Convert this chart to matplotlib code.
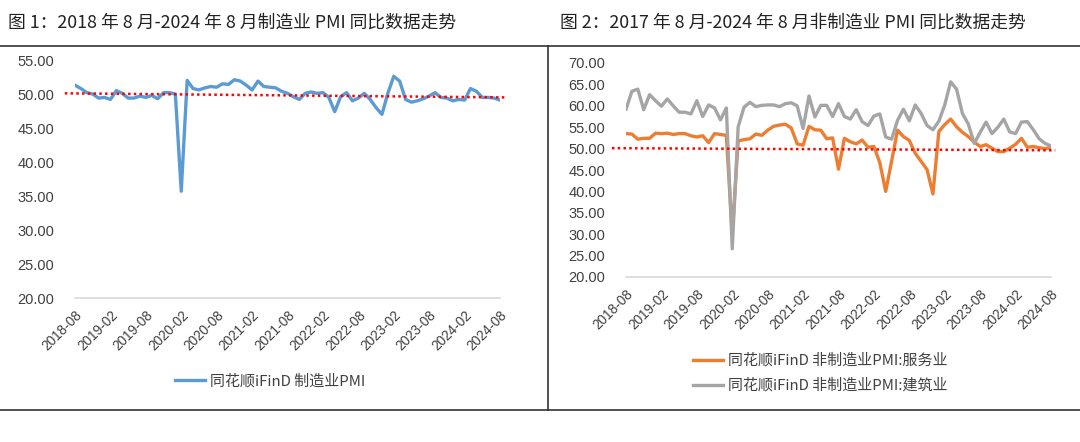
import matplotlib
matplotlib.use('Agg')
import matplotlib.pyplot as plt
from matplotlib.lines import Line2D
from matplotlib.transforms import blended_transform_factory
import pandas as pd

plt.rcParams['font.family'] = ['Liberation Sans', 'Noto Sans CJK SC', 'DejaVu Sans']

months = pd.date_range('2018-08-01', periods=73, freq='MS').strftime('%Y-%m').tolist()

# 制造业PMI 2018-08 .. 2024-08
mfg_pmi = [51.3, 50.8, 50.2, 50.0, 49.4,
           49.5, 49.2, 50.5, 50.1, 49.4, 49.4, 49.7, 49.5, 49.8, 49.3, 50.2, 50.2,
           50.0, 35.7, 52.0, 50.8, 50.6, 50.9, 51.1, 51.0, 51.5, 51.4, 52.1, 51.9,
           51.3, 50.6, 51.9, 51.1, 51.0, 50.9, 50.4, 50.1, 49.6, 49.2, 50.1, 50.3,
           50.1, 50.2, 49.5, 47.4, 49.6, 50.2, 49.0, 49.4, 50.1, 49.2, 48.0, 47.0,
           50.1, 52.6, 51.9, 49.2, 48.8, 49.0, 49.3, 49.7, 50.2, 49.5, 49.4, 49.0,
           49.2, 49.1, 50.8, 50.4, 49.5, 49.5, 49.4, 49.1]

# 非制造业PMI:服务业
services = [53.5, 53.4, 52.2, 52.4, 52.4,
            53.6, 53.5, 53.6, 53.3, 53.5, 53.5, 53.0, 52.7, 53.0, 51.4, 53.5, 53.3,
            53.1, 30.1, 51.8, 52.1, 52.3, 53.4, 53.1, 54.3, 55.2, 55.5, 55.7, 54.8,
            51.1, 50.8, 55.2, 54.4, 54.3, 52.3, 52.5, 45.2, 52.4, 51.6, 51.1, 52.0,
            50.3, 50.5, 46.7, 40.0, 47.1, 54.3, 52.8, 51.9, 48.9, 47.0, 45.1, 39.4,
            54.0, 55.6, 56.9, 55.1, 53.8, 52.8, 51.5, 50.5, 50.9, 50.1, 49.3, 49.3,
            50.1, 51.0, 52.4, 50.3, 50.5, 50.2, 50.0, 50.2]

# 非制造业PMI:建筑业
construction = [59.2, 63.4, 63.9, 59.1, 62.6,
                61.2, 59.9, 61.6, 60.0, 58.5, 58.5, 58.1, 61.2, 57.5, 60.2, 59.5, 56.7,
                59.5, 26.6, 55.1, 59.7, 60.8, 59.8, 60.1, 60.2, 60.2, 59.8, 60.5, 60.7,
                60.0, 54.7, 62.3, 57.4, 60.1, 60.1, 57.5, 60.5, 57.5, 56.9, 59.1, 56.3,
                55.4, 57.6, 58.1, 52.7, 52.2, 56.6, 59.2, 56.5, 60.2, 58.2, 55.4, 54.4,
                56.4, 60.2, 65.6, 63.9, 58.2, 55.7, 51.2, 53.8, 56.2, 53.5, 55.0, 56.9,
                53.9, 53.5, 56.2, 56.3, 54.4, 52.3, 51.2, 50.6]

ref_left = [50.1, 49.5]
ref_right = [50.1, 49.6]

title1 = '图 1：2018 年 8 月-2024 年 8 月制造业 PMI 同比数据走势'
title2 = '图 2：2017 年 8 月-2024 年 8 月非制造业 PMI 同比数据走势'

W, H = 1080, 442
fig = plt.figure(figsize=(W / 100, H / 100), dpi=100)


def frac(x0, y_top, x1, y_bot):
    return [x0 / W, 1 - y_bot / H, (x1 - x0) / W, (y_bot - y_top) / H]


def style_axes(ax, ymax):
    for s in ['top', 'right', 'left']:
        ax.spines[s].set_visible(False)
    ax.spines['bottom'].set_color('#d9d9d9')
    ax.spines['bottom'].set_linewidth(1.2)
    ax.set_xlim(0, len(months) - 1)
    ax.set_ylim(20, ymax)
    ax.set_yticks(range(20, ymax + 1, 5))
    ax.set_yticklabels([f'{v:.2f}' for v in range(20, ymax + 1, 5)])
    ticks = list(range(0, len(months), 6))
    ax.set_xticks(ticks)
    ax.set_xticklabels([months[i] for i in ticks], rotation=45, ha='right',
                       va='top', rotation_mode='anchor')
    ax.tick_params(axis='y', length=0, pad=15, labelsize=10.5, labelcolor='#404040')
    ax.tick_params(axis='x', length=0, pad=7, labelsize=9.8, labelcolor='#404040')


x = list(range(len(months)))

ax1 = fig.add_axes(frac(75, 60, 500, 298))
ax1.plot(x, mfg_pmi, color='#5B9BD5', lw=2.4, label='同花顺iFinD 制造业PMI')
style_axes(ax1, 55)
tr1 = blended_transform_factory(ax1.transAxes, ax1.transData)
ax1.plot([-0.024, 1.012], ref_left, transform=tr1, color='#FF0000', lw=1.8,
         ls=(0, (1, 1.3)), clip_on=False)

ax2 = fig.add_axes(frac(626, 63, 1051, 277))
ax2.plot(x, services, color='#ED7D31', lw=2.4, label='同花顺iFinD 非制造业PMI:服务业')
ax2.plot(x, construction, color='#A5A5A5', lw=2.4, label='同花顺iFinD 非制造业PMI:建筑业')
style_axes(ax2, 70)
tr2 = blended_transform_factory(ax2.transAxes, ax2.transData)
ax2.plot([-0.033, 1.01], ref_right, transform=tr2, color='#FF0000', lw=1.8,
         ls=(0, (1, 1.3)), clip_on=False)

leg_font = {'family': ['Noto Sans CJK SC', 'DejaVu Sans'], 'size': 10.8}
fig.legend(handles=ax1.get_lines()[:1], loc='center', bbox_to_anchor=(270 / W, 1 - 381 / H),
           frameon=False, prop=leg_font, handlelength=2.0, handletextpad=0.3,
           labelcolor='#404040')
fig.legend(handles=ax2.get_lines()[:2], loc='center', bbox_to_anchor=(820 / W, 1 - 373 / H),
           frameon=False, prop=leg_font, handlelength=2.0, handletextpad=0.3,
           labelspacing=0.7, labelcolor='#404040')

# titles
title_font = ['Noto Sans CJK SC', 'DejaVu Sans']
fig.text(8 / W, 1 - 23 / H, title1, fontsize=12.8, family=title_font, va='center', color='#222222')
fig.text(560 / W, 1 - 23 / H, title2, fontsize=12.8, family=title_font, va='center', color='#222222')

# frame rules
y_top = 1 - 46 / H
y_bot = 1 - 410 / H
fig.add_artist(Line2D([0, 1], [y_top, y_top], transform=fig.transFigure, color='#333333', lw=1.2))
fig.add_artist(Line2D([0, 1], [y_bot, y_bot], transform=fig.transFigure, color='#333333', lw=1.2))
fig.add_artist(Line2D([548 / W, 548 / W], [y_top, y_bot], transform=fig.transFigure,
                      color='#333333', lw=1.2))

fig.savefig('out.png', dpi=100)
